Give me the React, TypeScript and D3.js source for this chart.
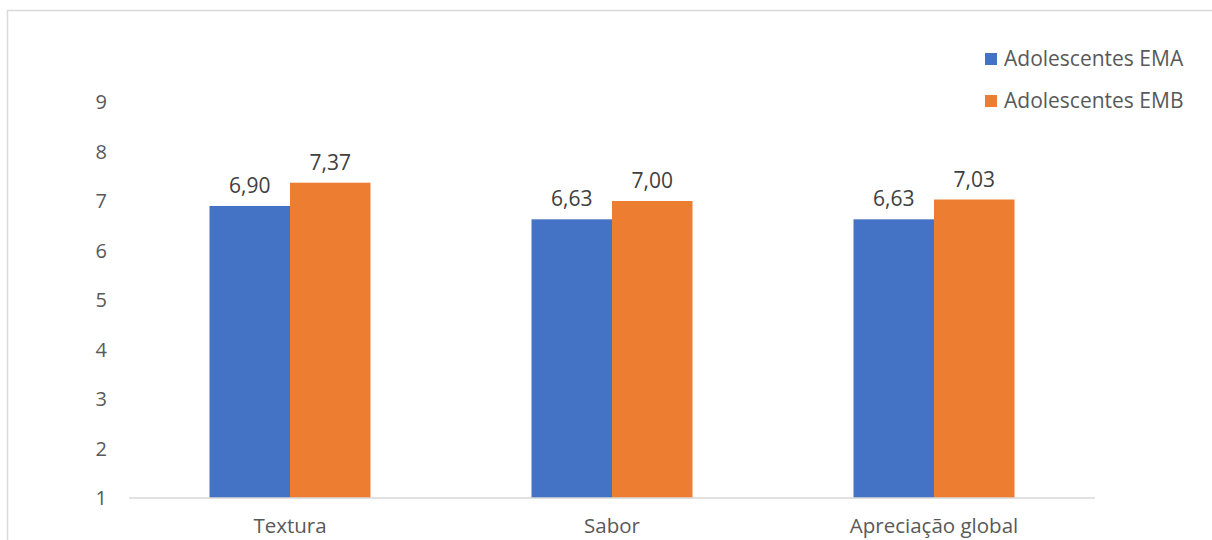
import React from "react";
import * as d3 from "d3";

const categories = ["Textura", "Sabor", "Apreciação global"];
const seriesNames = ["Adolescentes EMA", "Adolescentes EMB"];
const emaValues = [6.9, 6.63, 6.63];
const embValues = [7.37, 7.0, 7.03];
const yTicks = [1, 2, 3, 4, 5, 6, 7, 8, 9];
const colors = ["#4472C4", "#ED7D31"];

const W = 1212;
const H = 540;
const FONT = "'Open Sans', sans-serif";
const TEXT = "#595959";

export default function App() {
  const x0 = d3.scaleBand().domain(categories).range([129, 1095]).paddingInner(0.5).paddingOuter(0.25);
  const x1 = d3.scaleBand().domain(seriesNames).range([0, x0.bandwidth()]);
  const y = d3.scaleLinear().domain([1, 9]).range([498, 102]);
  const series = [emaValues, embValues];
  const fmt = (v: number) => v.toFixed(2).replace(".", ",");

  return (
    <svg width={W} height={H} style={{ position: "absolute", left: 0, top: 0, background: "#fff" }}>
      <rect x={7.5} y={10.5} width={1220} height={560} fill="#fff" stroke="#D9D9D9" strokeWidth={1.5} />
      {yTicks.map((t) => (
        <text key={t} x={107} y={y(t)} dy="0.35em" textAnchor="end" fontFamily={FONT} fontSize={20} fill={TEXT}>
          {t}
        </text>
      ))}
      {categories.map((c, ci) => (
        <g key={c}>
          {series.map((vals, si) => {
            const xx = (x0(c) as number) + (x1(seriesNames[si]) as number);
            return (
              <g key={si}>
                <rect x={xx} y={y(vals[ci])} width={x1.bandwidth()} height={y(1) - y(vals[ci])} fill={colors[si]} />
                <text x={xx + x1.bandwidth() / 2} y={y(vals[ci]) - 13} textAnchor="middle" fontFamily={FONT} fontSize={21} fill="#404040">
                  {fmt(vals[ci])}
                </text>
              </g>
            );
          })}
          <text x={(x0(c) as number) + x0.bandwidth() / 2} y={533} textAnchor="middle" fontFamily={FONT} fontSize={20.5} fill={TEXT}>
            {c}
          </text>
        </g>
      ))}
      <line x1={129} x2={1095} y1={y(1)} y2={y(1)} stroke="#D9D9D9" strokeWidth={1.5} />
      {seriesNames.map((s, i) => (
        <g key={s}>
          <rect x={985} y={53 + i * 42} width={12} height={12} fill={colors[i]} />
          <text x={1004} y={59 + i * 42} dy="0.35em" fontFamily={FONT} fontSize={21} fill={TEXT}>
            {s}
          </text>
        </g>
      ))}
    </svg>
  );
}
